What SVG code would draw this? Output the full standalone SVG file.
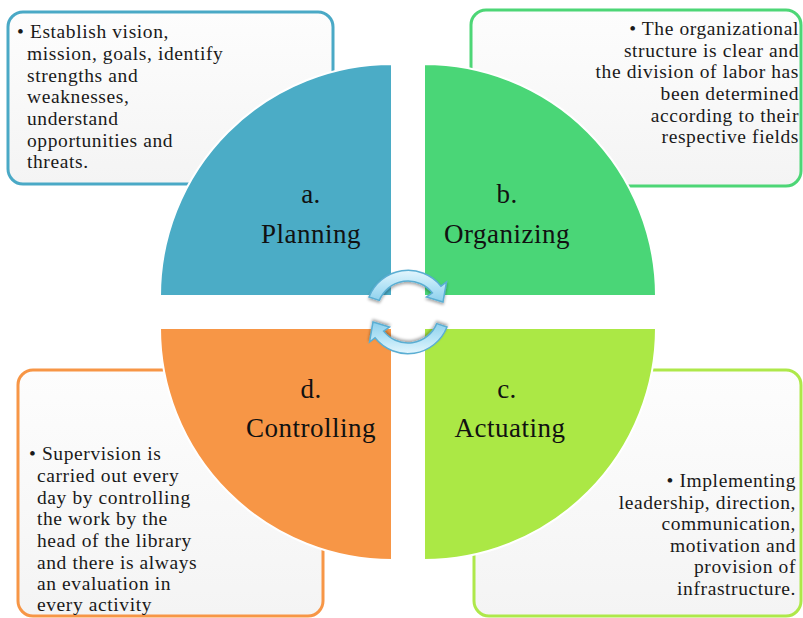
<svg xmlns="http://www.w3.org/2000/svg" width="803" height="618" viewBox="0 0 803 618">
<defs>
<linearGradient id="boxFill" x1="0" y1="0" x2="0" y2="1">
<stop offset="0" stop-color="#fdfdfd"/>
<stop offset="1" stop-color="#f4f4f4"/>
</linearGradient>
<linearGradient id="arrowFill" x1="0" y1="0" x2="0" y2="1">
<stop offset="0" stop-color="#e4f6fd"/>
<stop offset="0.5" stop-color="#b4e3f6"/>
<stop offset="1" stop-color="#8ccfec"/>
</linearGradient>
<filter id="shadow" x="-20%" y="-20%" width="140%" height="140%">
<feGaussianBlur in="SourceAlpha" stdDeviation="1.5"/>
<feOffset dx="0" dy="2" result="b"/>
<feComponentTransfer><feFuncA type="linear" slope="0.35"/></feComponentTransfer>
<feMerge><feMergeNode/><feMergeNode in="SourceGraphic"/></feMerge>
</filter>
</defs>
<style>
.box{fill:url(#boxFill);stroke-width:3}
.body{font-family:"Liberation Serif","Times New Roman",serif;font-size:19.5px;fill:#1a1a1a;letter-spacing:0.6px}
.label{font-family:"Liberation Serif","Times New Roman",serif;font-size:27px;fill:#111;letter-spacing:0.5px;text-anchor:middle}
.quarter{stroke:#fff;stroke-width:2}
.arrow{fill:url(#arrowFill);stroke:#5aaed3;stroke-width:1.5;filter:url(#shadow)}
.end{text-anchor:end}
</style>
<rect width="803" height="618" fill="#fff"/>

<g id="box-planning">
<rect class="box" x="8" y="12" width="325" height="172" rx="15" stroke="#4aa9c6"/>
<text class="body"><tspan x="17" y="38">• Establish vision,</tspan><tspan x="27" y="60">mission, goals, identify</tspan><tspan x="27" y="82">strengths and</tspan><tspan x="27" y="103">weaknesses,</tspan><tspan x="27" y="125">understand</tspan><tspan x="27" y="147">opportunities and</tspan><tspan x="27" y="168">threats.</tspan></text>
</g>
<g id="box-organizing">
<rect class="box" x="471" y="10" width="330" height="176" rx="15" stroke="#4dd676"/>
<text class="body end"><tspan x="799" y="35">• The organizational</tspan><tspan x="799" y="57">structure is clear and</tspan><tspan x="799" y="78">the division of labor has</tspan><tspan x="799" y="100">been determined</tspan><tspan x="799" y="122">according to their</tspan><tspan x="799" y="143">respective fields</tspan></text>
</g>
<g id="box-controlling">
<rect class="box" x="18" y="370" width="305" height="246" rx="15" stroke="#f79646"/>
<text class="body"><tspan x="29" y="460">• Supervision is</tspan><tspan x="37" y="482">carried out every</tspan><tspan x="37" y="504">day by controlling</tspan><tspan x="37" y="525">the work by the</tspan><tspan x="37" y="547">head of the library</tspan><tspan x="37" y="569">and there is always</tspan><tspan x="37" y="590">an evaluation in</tspan><tspan x="37" y="611">every activity</tspan></text>
</g>
<g id="box-actuating">
<rect class="box" x="474" y="370" width="327" height="246" rx="15" stroke="#aee84a"/>
<text class="body end"><tspan x="796" y="487">• Implementing</tspan><tspan x="796" y="509">leadership, direction,</tspan><tspan x="796" y="530">communication,</tspan><tspan x="796" y="552">motivation and</tspan><tspan x="796" y="573">provision of</tspan><tspan x="796" y="595">infrastructure.</tspan></text>
</g>

<g id="node-planning">
<path class="quarter" d="M392,296 L160,296 A232,232 0 0 1 392,64 Z" fill="#4bacc6"/>
<text class="label" x="311" y="203">a.</text>
<text class="label" x="311" y="243">Planning</text>
</g>
<g id="node-organizing">
<path class="quarter" d="M424,296 L424,64 A232,232 0 0 1 656,296 Z" fill="#4ad677"/>
<text class="label" x="507" y="203">b.</text>
<text class="label" x="507" y="243">Organizing</text>
</g>
<g id="node-actuating">
<path class="quarter" d="M424,328 L656,328 A232,232 0 0 1 424,560 Z" fill="#abe845"/>
<text class="label" x="507" y="398">c.</text>
<text class="label" x="510" y="437">Actuating</text>
</g>
<g id="node-controlling">
<path class="quarter" d="M392,328 L392,560 A232,232 0 0 1 160,328 Z" fill="#f79646"/>
<text class="label" x="311" y="398">d.</text>
<text class="label" x="311" y="437">Controlling</text>
</g>

<g id="connectors">
<path class="arrow" d="M369,297 A42,42 0 0 1 441,286.2 L446.5,282 L443,302 L426.5,297 L432.4,292.9 A31,31 0 0 0 379.3,300.4 Z"/>
<path class="arrow" transform="rotate(180 408 312)" d="M369,297 A42,42 0 0 1 441,286.2 L446.5,282 L443,302 L426.5,297 L432.4,292.9 A31,31 0 0 0 379.3,300.4 Z"/>
</g>
</svg>
